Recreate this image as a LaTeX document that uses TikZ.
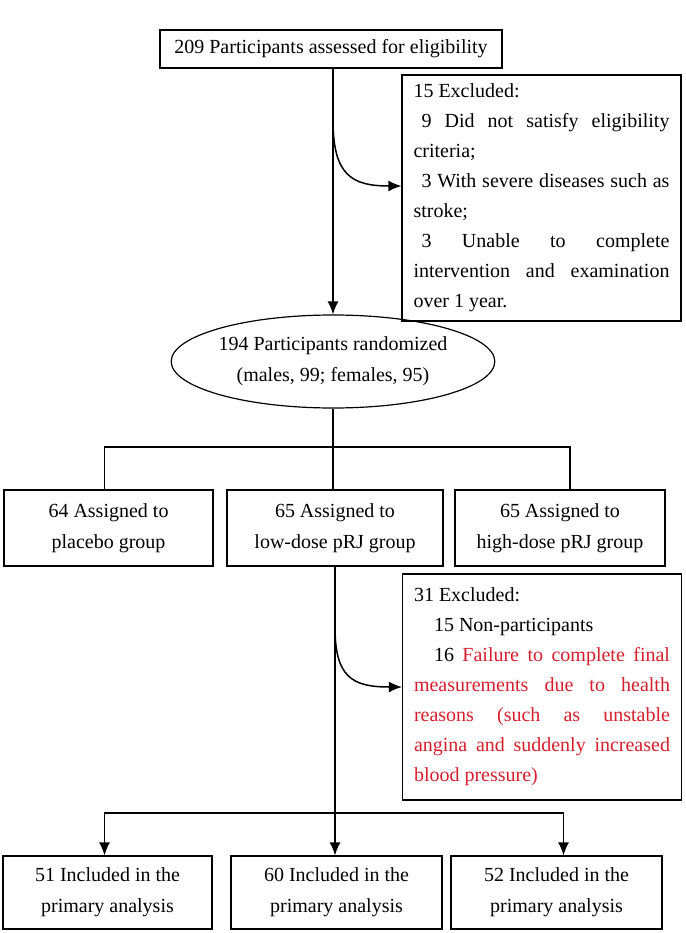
\documentclass[tikz,border=0pt]{standalone}
\usepackage{fontspec}
\setmainfont{Liberation Serif}
\usetikzlibrary{arrows.meta,shapes.geometric,calc}
\definecolor{failred}{RGB}{214,30,45}
\tikzset{
    block/.style = {draw, rectangle, line width=1.2pt, inner sep=0pt,
        align=center, font=\fontsize{20}{31}\selectfont},
    oval/.style = {draw, ellipse, line width=1.2pt, inner sep=0pt,
        align=center, minimum width=293pt, minimum height=93pt,
        font=\fontsize{20}{31}\selectfont},
    note/.style = {draw, rectangle, line width=1.2pt, inner xsep=11.5pt,
        inner ysep=0pt, text width=256pt, align=justify,
        font=\fontsize{20}{30}\selectfont},
    arrow/.style = {draw, -{Latex[length=13pt,width=11pt]}, line width=1.5pt},
    line/.style = {draw, line width=1.5pt}
}

\begin{document}
\begin{tikzpicture}[x=1pt,y=-1pt]
    \useasboundingbox (0,0) rectangle (685,933);
    \node[block, minimum width=342pt, minimum height=38pt] (top) at (331,49)
        {209 Participants assessed for eligibility};
    \node[note, minimum height=246pt] (excl1) at (541.5,198)
        {15 Excluded:\\
        \hspace*{8pt}9 Did not satisfy eligibility\linebreak criteria;\\
        \hspace*{8pt}3 With severe diseases such as\linebreak stroke;\\
        \hspace*{8pt}3 Unable to complete\linebreak intervention and examination\linebreak over 1 year.};
    \node[oval] (rand) at (333,361.5)
        {194 Participants randomized\\(males, 99; females, 95)};
    \node[block, minimum width=209pt, minimum height=76pt] (grp1) at (108.5,528)
        {64 Assigned to\\placebo group};
    \node[block, minimum width=216pt, minimum height=76pt] (grp2) at (335,528)
        {65 Assigned to\\low-dose pRJ group};
    \node[block, minimum width=210pt, minimum height=76pt] (grp3) at (560,528)
        {65 Assigned to\\high-dose pRJ group};
    \node[note, minimum height=226pt] (excl2) at (542,687)
        {31 Excluded:\\
        \hspace*{20pt}15 Non-participants\\
        \hspace*{20pt}16 {\color{failred}Failure to complete final\linebreak measurements due to health\linebreak reasons (such as unstable\linebreak angina and suddenly increased\linebreak blood pressure)}};
    \node[block, minimum width=209pt, minimum height=73pt] (ana1) at (107.5,892.5)
        {51 Included in the\\primary analysis};
    \node[block, minimum width=211pt, minimum height=73pt] (ana2) at (336.5,892.5)
        {60 Included in the\\primary analysis};
    \node[block, minimum width=211pt, minimum height=73pt] (ana3) at (556.5,892.5)
        {52 Included in the\\primary analysis};
    % trunk and branches
    \coordinate (fork1) at (rand.north |- 0,120);
    \coordinate (bar1) at (rand.south |- 0,447);
    \coordinate (fork2) at (grp2.south |- 0,627);
    \coordinate (bar2) at (grp2.south |- 0,813);
    \draw[arrow] (top.south -| rand.north) -- (rand.north);
    \draw[arrow] (fork1) .. controls +(0,55) and +(-50,0) .. ([yshift=12pt]excl1.west);
    \draw[line] (rand.south) -- (bar1);
    \draw[line] ([xshift=-4pt]grp1.north) |- (bar1) -| ([xshift=10pt]grp3.north);
    \draw[line] (bar1) -- (bar1 |- grp2.north);
    \draw[line] (grp2.south) -- (bar2);
    \draw[arrow] (fork2) .. controls +(0,50) and +(-50,0) .. (excl2.west);
    \draw[arrow] (bar2) -| ([xshift=-3pt]ana1.north);
    \draw[arrow] (bar2) -- (bar2 |- ana2.north);
    \draw[arrow] (bar2) -| ([xshift=7pt]ana3.north);
\end{tikzpicture}
\end{document}
